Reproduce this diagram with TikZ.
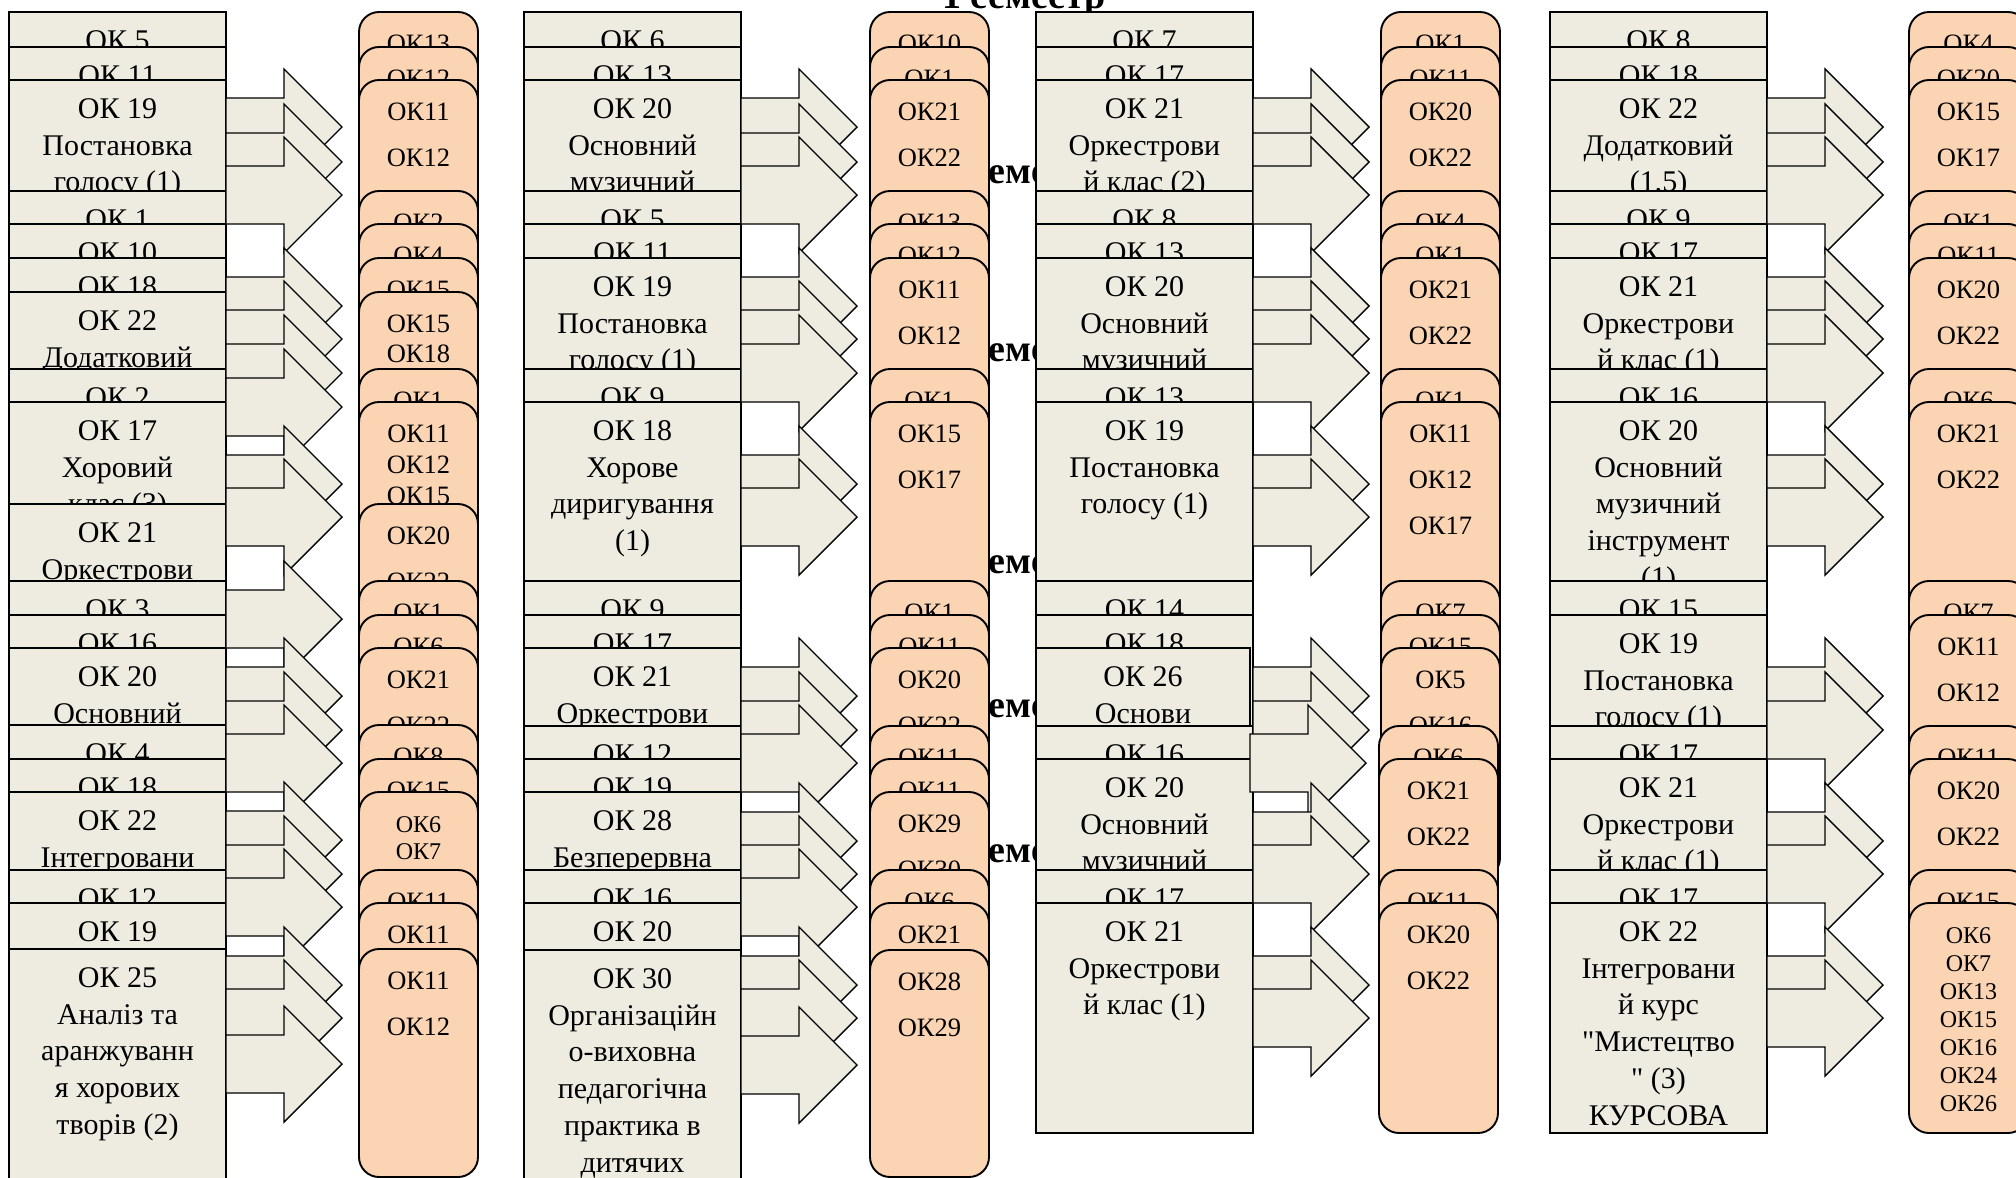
\documentclass[tikz,border=0pt]{standalone}
\usepackage{fontspec}
\setmainfont{Liberation Serif}[Ligatures=TeXOff]
\definecolor{beige}{HTML}{EEECE1}
\definecolor{peach}{HTML}{FBD4B4}
\tikzset{
 rectbox/.style={fill=beige, draw=black, line width=1.4pt},
 rbx/.style={fill=peach, draw=black, line width=1.9pt, rounded corners=20pt},
 arr/.style={fill=beige, draw=black, line width=1.4pt, line join=miter},
 rtxt/.style={anchor=base, inner sep=0pt, font=\fontsize{30}{36}\selectfont},
 btxt/.style={anchor=base, inner sep=0pt, font=\fontsize{26.5}{31}\selectfont},
 stxt/.style={anchor=base, inner sep=0pt, font=\fontsize{24}{28}\selectfont},
 hd/.style={anchor=base, inner sep=0pt, font=\fontsize{38}{44}\selectfont\bfseries}
}
% rectangle: [width]{left}{top}{lines}
\newcommand\RR[4][217]{%
  \filldraw[rectbox] (#2,#3) rectangle ++(#1,230);
  \foreach \s [count=\i from 0] in {#4} {\node[rtxt] at (#2+#1/2,#3+38.5+\i*36.7) {\s};}}
% rounded box: {left}{top}{height}{spacing}{style}{lines}
\newcommand\RB[6]{%
  \filldraw[rbx] (#1,#2) rectangle ++(119,#3);
  \foreach \s [count=\i from 0] in {#6} {\node[#5] at (#1+59.5,#2+40+\i*#4) {\s};}}
% block arrow: {tail x}{top of source rectangle}
\newcommand\AR[2]{%
  \filldraw[arr] (#1,#2+86) -- ++(58,0) -- ++(0,-29) -- ++(58,58) -- ++(-58,58) -- ++(0,-29) -- ++(-58,0) -- cycle;}
\begin{document}
\begin{tikzpicture}[x=1pt,y=-1pt]
\path[use as bounding box] (0,0) rectangle (2016,1178);
\clip (0,0) rectangle (2016,1178);
\fill[white] (0,0) rectangle (2016,1178);
% semester headings (mostly hidden)
\node[hd] (hd1) at (1024,8) {1 семестр};
\foreach \r/\n in {191/2,369/3,581/4,725/5,870/6}
  {\node[hd] (hd\n) at (1024,\r-8) {\n{} семестр};}
% ================= column 1 =================
\RR{9}{12}{ОК 5}
\RR{9}{47}{ОК 11}
\RR{9}{80}{ОК 19,Постановка,голосу (1)}
\RR{9}{191}{ОК 1}
\RR{9}{224}{ОК 10}
\RR{9}{258}{ОК 18}
\RR{9}{292}{ОК 22,Додатковий}
\RR{9}{369}{ОК 2}
\RR{9}{402}{ОК 17,Хоровий,клас (3)}
\RR{9}{504}{ОК 21,Оркестрови}
\RR{9}{581}{ОК 3}
\RR{9}{615}{ОК 16}
\RR{9}{648}{ОК 20,Основний}
\RR{9}{725}{ОК 4}
\RR{9}{759}{ОК 18}
\RR{9}{792}{ОК 22,Інтегровани}
\RR{9}{870}{ОК 12}
\RR{9}{903}{ОК 19}
\RR{9}{949}{ОК 25,Аналіз та,аранжуванн,я хорових,творів (2)}
\foreach \t in {12,47,80,191,224,258,292,369,402,504,581,615,648,725,759,792,870,903,949} {\AR{226}{\t}}
\RB{359}{12}{230}{46}{btxt}{ОК13}
\RB{359}{47}{230}{46}{btxt}{ОК12}
\RB{359}{80}{230}{46}{btxt}{ОК11,ОК12}
\RB{359}{191}{230}{46}{btxt}{ОК2}
\RB{359}{224}{230}{46}{btxt}{ОК4}
\RB{359}{258}{230}{46}{btxt}{ОК15}
\RB{359}{292}{230}{30}{btxt}{ОК15,ОК18}
\RB{359}{369}{230}{46}{btxt}{ОК1}
\RB{359}{402}{230}{31}{btxt}{ОК11,ОК12,ОК15}
\RB{359}{504}{230}{46}{btxt}{ОК20,ОК22}
\RB{359}{581}{230}{46}{btxt}{ОК1}
\RB{359}{615}{230}{46}{btxt}{ОК6}
\RB{359}{648}{230}{46}{btxt}{ОК21,ОК22}
\RB{359}{725}{230}{46}{btxt}{ОК8}
\RB{359}{759}{230}{46}{btxt}{ОК15}
\RB{359}{792}{230}{27}{stxt}{ОК6,ОК7}
\RB{359}{870}{230}{46}{btxt}{ОК11}
\RB{359}{903}{230}{46}{btxt}{ОК11}
\RB{359}{949}{228}{46}{btxt}{ОК11,ОК12}
% ================= column 2 =================
\RR{524}{12}{ОК 6}
\RR{524}{47}{ОК 13}
\RR{524}{80}{ОК 20,Основний,музичний}
\RR{524}{191}{ОК 5}
\RR{524}{224}{ОК 11}
\RR{524}{258}{ОК 19,Постановка,голосу (1)}
\RR{524}{369}{ОК 9}
\RR{524}{402}{ОК 18,Хорове,диригування,(1)}
\RR{524}{581}{ОК 9}
\RR{524}{615}{ОК 17}
\RR{524}{648}{ОК 21,Оркестрови}
\RR{524}{726}{ОК 12}
\RR{524}{759}{ОК 19}
\RR{524}{792}{ОК 28,Безперервна}
\RR{524}{870}{ОК 16}
\RR{524}{903}{ОК 20}
\RR{524}{950}{ОК 30,Організаційн,о-виховна,педагогічна,практика в,дитячих}
\foreach \t in {12,47,80,191,224,258,369,402,581,615,648,726,759,792,870,903,950} {\AR{741}{\t}}
\RB{870}{12}{230}{46}{btxt}{ОК10}
\RB{870}{47}{230}{46}{btxt}{ОК1}
\RB{870}{80}{230}{46}{btxt}{ОК21,ОК22}
\RB{870}{191}{230}{46}{btxt}{ОК13}
\RB{870}{224}{230}{46}{btxt}{ОК12}
\RB{870}{258}{230}{46}{btxt}{ОК11,ОК12}
\RB{870}{369}{230}{46}{btxt}{ОК1}
\RB{870}{402}{230}{46}{btxt}{ОК15,ОК17}
\RB{870}{581}{230}{46}{btxt}{ОК1}
\RB{870}{615}{230}{46}{btxt}{ОК11}
\RB{870}{648}{230}{46}{btxt}{ОК20,ОК22}
\RB{870}{726}{230}{46}{btxt}{ОК11}
\RB{870}{759}{230}{46}{btxt}{ОК11}
\RB{870}{792}{230}{46}{btxt}{ОК29,ОК30}
\RB{870}{870}{230}{46}{btxt}{ОК6}
\RB{870}{903}{230}{46}{btxt}{ОК21}
\RB{870}{950}{227}{46}{btxt}{ОК28,ОК29}
% ================= column 3 =================
\RR{1036}{12}{ОК 7}
\RR{1036}{47}{ОК 17}
\RR{1036}{80}{ОК 21,Оркестрови,й клас (2)}
\RR{1036}{191}{ОК 8}
\RR{1036}{224}{ОК 13}
\RR{1036}{258}{ОК 20,Основний,музичний}
\RR{1036}{369}{ОК 13}
\RR{1036}{402}{ОК 19,Постановка,голосу (1)}
\RR{1036}{581}{ОК 14}
\RR{1036}{615}{ОК 18}
\RR[214]{1036}{648}{ОК 26,Основи}
\RR{1036}{726}{ОК 16}
\RR{1036}{759}{ОК 20,Основний,музичний}
\RR{1036}{870}{ОК 17}
\RR{1036}{903}{ОК 21,Оркестрови,й клас (1)}
\foreach \t in {12,47,80,191,224,258,369,402,581,615} {\AR{1253}{\t}}
\AR{1250}{648}
\foreach \t in {726,759,870,903} {\AR{1253}{\t}}
\RB{1381}{12}{230}{46}{btxt}{ОК1}
\RB{1381}{47}{230}{46}{btxt}{ОК11}
\RB{1381}{80}{230}{46}{btxt}{ОК20,ОК22}
\RB{1381}{191}{230}{46}{btxt}{ОК4}
\RB{1381}{224}{230}{46}{btxt}{ОК1}
\RB{1381}{258}{230}{46}{btxt}{ОК21,ОК22}
\RB{1381}{369}{230}{46}{btxt}{ОК1}
\RB{1381}{402}{230}{46}{btxt}{ОК11,ОК12,ОК17}
\RB{1381}{581}{230}{46}{btxt}{ОК7}
\RB{1381}{615}{230}{46}{btxt}{ОК15}
\RB{1381}{648}{230}{46}{btxt}{ОК5,ОК16}
\RB{1379}{726}{230}{46}{btxt}{ОК6}
\RB{1379}{759}{230}{46}{btxt}{ОК21,ОК22}
\RB{1379}{870}{230}{46}{btxt}{ОК11}
\RB{1379}{903}{230}{46}{btxt}{ОК20,ОК22}
% ================= column 4 =================
\RR{1550}{12}{ОК 8}
\RR{1550}{47}{ОК 18}
\RR{1550}{80}{ОК 22,Додатковий,{(1,5)}}
\RR{1550}{191}{ОК 9}
\RR{1550}{224}{ОК 17}
\RR{1550}{258}{ОК 21,Оркестрови,й клас (1)}
\RR{1550}{369}{ОК 16}
\RR{1550}{402}{ОК 20,Основний,музичний,інструмент,(1)}
\RR{1550}{581}{ОК 15}
\RR{1550}{615}{ОК 19,Постановка,голосу (1)}
\RR{1550}{726}{ОК 17}
\RR{1550}{759}{ОК 21,Оркестрови,й клас (1)}
\RR{1550}{870}{ОК 17}
\RR{1550}{903}{ОК 22,Інтегровани,й курс,"Мистецтво,{" (3)},КУРСОВА}
\foreach \t in {12,47,80,191,224,258,369,402,581,615,726,759,870,903} {\AR{1767}{\t}}
\RB{1909}{12}{230}{46}{btxt}{ОК4}
\RB{1909}{47}{230}{46}{btxt}{ОК20}
\RB{1909}{80}{230}{46}{btxt}{ОК15,ОК17}
\RB{1909}{191}{230}{46}{btxt}{ОК1}
\RB{1909}{224}{230}{46}{btxt}{ОК11}
\RB{1909}{258}{230}{46}{btxt}{ОК20,ОК22}
\RB{1909}{369}{230}{46}{btxt}{ОК6}
\RB{1909}{402}{230}{46}{btxt}{ОК21,ОК22}
\RB{1909}{581}{230}{46}{btxt}{ОК7}
\RB{1909}{615}{230}{46}{btxt}{ОК11,ОК12}
\RB{1909}{726}{230}{46}{btxt}{ОК11}
\RB{1909}{759}{230}{46}{btxt}{ОК20,ОК22}
\RB{1909}{870}{230}{46}{btxt}{ОК15}
\RB{1909}{903}{230}{28}{stxt}{ОК6,ОК7,ОК13,ОК15,ОК16,ОК24,ОК26}
\end{tikzpicture}
\end{document}
